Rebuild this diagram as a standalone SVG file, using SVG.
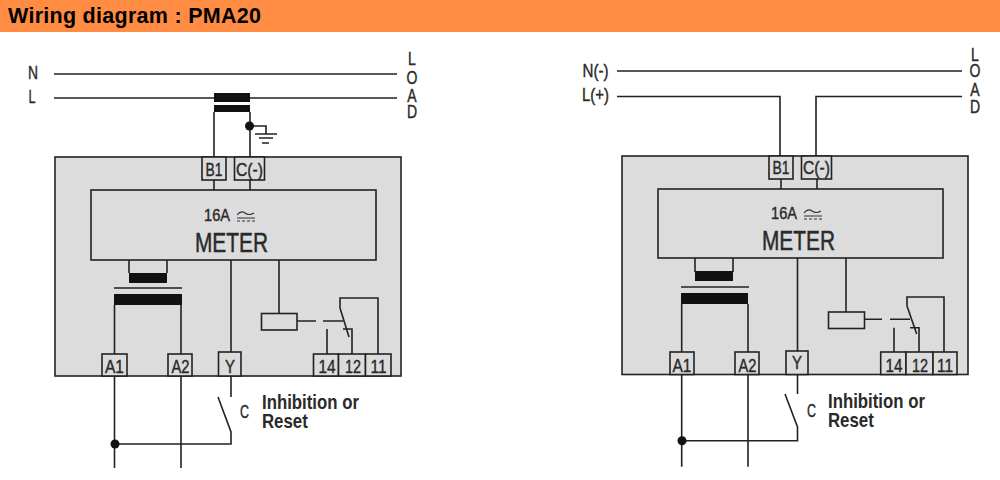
<svg xmlns="http://www.w3.org/2000/svg" width="1000" height="480" viewBox="0 0 1000 480">
<style>
text{font-family:"Liberation Sans",Arial,sans-serif;fill:#2a2a2a}
.t{font-size:18px;text-anchor:middle;stroke:#2a2a2a;stroke-width:.4}
.m{font-size:27px;text-anchor:middle;stroke:#2a2a2a;stroke-width:.5}
.a{font-size:17px;text-anchor:middle;stroke:#2a2a2a;stroke-width:.4}
.b{font-weight:bold;font-size:20px}
.w{fill:none;stroke:#222;stroke-width:1.6}
.box{fill:#dcdcdc;stroke:#222;stroke-width:1.6}
.bar,.dot{fill:#111}
.thin{fill:none;stroke:#333;stroke-width:1.2}
</style>
<rect width="1000" height="480" fill="#fff"/>
<g id="header">
<rect width="1000" height="32" fill="#ff8c42"/>
<text x="8" y="22.500" textLength="253" lengthAdjust="spacing" style="font-size:21.500px;font-weight:bold;fill:#000">Wiring diagram : PMA20</text>
</g>

<g id="left-diagram">
<g id="left-device"><rect class="box" x="55" y="157" width="346" height="219"/></g>
<g id="left-meter"><rect class="box" x="91" y="190" width="285" height="70"/>
<text class="a" x="217" y="221" textLength="26" lengthAdjust="spacingAndGlyphs">16A</text>
<path class="thin" d="M237 215q4-5 8-2t9 0M237 218h18M237 221h3m2 0h3m2 0h3m2 0h3"/>
<text class="m" x="231.500" y="252" textLength="73" lengthAdjust="spacingAndGlyphs">METER</text></g>
<g id="left-connectors">
<path class="w" d="M54 74H397M54 98H397M214 112V157M250 112V157M250 126H266V134M255 134H277M259 138H273M262 143H269M214 180V190M250 180V190M129 260V273M167 260V273M114 288H182M114.500 305V354M181 305V354M231 260V352M279 260V313M114.500 376V468M181 376V468M231 376V397M218 397L231 432V444H115M297 321H316M323 321H343M340 308V298H378V354M340 308L349 337M343 329H352V354M327 329V354"/>
<rect class="bar" x="214" y="93" width="36" height="9"/>
<rect class="bar" x="214" y="105" width="36" height="7"/>
<rect class="bar" x="129" y="273" width="38" height="10"/>
<rect class="bar" x="114" y="294" width="68" height="11"/>
<circle class="dot" cx="249.500" cy="126" r="4.500"/>
<circle class="dot" cx="115" cy="444" r="4.500"/>
</g>
<g id="left-coil"><rect class="box" x="261.500" y="313.500" width="35.500" height="16.500"/></g>
<g id="left-B1"><rect class="box" x="202" y="157" width="24" height="23"/><text class="t" x="214" y="175.500" textLength="17" lengthAdjust="spacingAndGlyphs">B1</text></g>
<g id="left-C"><rect class="box" x="234.500" y="157" width="30" height="23"/><text class="t" x="249.500" y="175.500" textLength="27" lengthAdjust="spacingAndGlyphs">C(-)</text></g>
<g id="left-A1"><rect class="box" x="102" y="354" width="25" height="22"/><text class="t" x="114.500" y="372.500" textLength="19" lengthAdjust="spacingAndGlyphs">A1</text></g>
<g id="left-A2"><rect class="box" x="168" y="354" width="24" height="22"/><text class="t" x="180.500" y="372.500" textLength="18" lengthAdjust="spacingAndGlyphs">A2</text></g>
<g id="left-Y"><rect class="box" x="218.500" y="352" width="22.500" height="24"/><text class="t" x="230" y="372.500" textLength="10" lengthAdjust="spacingAndGlyphs">Y</text></g>
<g id="left-14"><rect class="box" x="313.500" y="354" width="25" height="22"/><text class="t" x="327" y="372.500" textLength="17" lengthAdjust="spacingAndGlyphs">14</text></g>
<g id="left-12"><rect class="box" x="338.500" y="354" width="27" height="22"/><text class="t" x="353" y="372.500" textLength="16" lengthAdjust="spacingAndGlyphs">12</text></g>
<g id="left-11"><rect class="box" x="365.500" y="354" width="25.500" height="22"/><text class="t" x="378.500" y="372.500" textLength="16" lengthAdjust="spacingAndGlyphs">11</text></g>
<text class="t" x="33" y="79" textLength="10" lengthAdjust="spacingAndGlyphs">N</text>
<text class="t" x="32" y="103" textLength="7" lengthAdjust="spacingAndGlyphs">L</text>
<text class="t" transform="translate(412 0) scale(.78 1)"><tspan x="0" y="65">L</tspan><tspan x="0" y="84">O</tspan><tspan x="0" y="102">A</tspan><tspan x="0" y="118">D</tspan></text>
<text class="t" x="244.500" y="418" textLength="9" lengthAdjust="spacingAndGlyphs">C</text>
<text class="b" transform="translate(262 409) scale(.84 1)"><tspan x="0" y="0">Inhibition or</tspan><tspan x="0" y="19">Reset</tspan></text>
</g>

<g id="right-diagram" transform="translate(567,-1)">
<g id="right-device"><rect class="box" x="55" y="157" width="346" height="218.500"/></g>
<g id="right-meter"><rect class="box" x="91" y="190" width="285" height="69"/>
<text class="a" x="217" y="220" textLength="26" lengthAdjust="spacingAndGlyphs">16A</text>
<path class="thin" d="M237 214q4-5 8-2t9 0M237 217h18M237 220h3m2 0h3m2 0h3m2 0h3"/>
<text class="m" x="231.500" y="251" textLength="73" lengthAdjust="spacingAndGlyphs">METER</text></g>
<g id="right-connectors">
<path class="w" d="M50 72H395M50 97.500H213V157M395 97.500H249V157M214 180V190M250 180V190M128 259V273M166 259V273M114 288H182M114.700 305V353M181 305V353M230.500 259V352M279 259V313M114.700 375.500V467.700M181 375.500V467.700M230.500 375.500V395M218 395L230.500 428V441.700H115M297.500 320.300H315M323 320.300H343M340 307V298H377V353M340 307L349.700 335M343 328.700H352V353M327 328.700V353"/>
<rect class="bar" x="128" y="272" width="38" height="10"/>
<rect class="bar" x="114" y="294" width="67" height="11"/>
<circle class="dot" cx="115" cy="441.700" r="4.500"/>
</g>
<g id="right-coil"><rect class="box" x="261.500" y="313" width="36" height="16.500"/></g>
<g id="right-B1"><rect class="box" x="202" y="157" width="24" height="23"/><text class="t" x="214" y="175" textLength="17" lengthAdjust="spacingAndGlyphs">B1</text></g>
<g id="right-C"><rect class="box" x="234.500" y="157" width="30" height="23"/><text class="t" x="249.500" y="175" textLength="27" lengthAdjust="spacingAndGlyphs">C(-)</text></g>
<g id="right-A1"><rect class="box" x="103" y="353" width="24" height="22.500"/><text class="t" x="115" y="372.700" textLength="19" lengthAdjust="spacingAndGlyphs">A1</text></g>
<g id="right-A2"><rect class="box" x="168" y="353" width="24" height="22.500"/><text class="t" x="180.500" y="372.700" textLength="18" lengthAdjust="spacingAndGlyphs">A2</text></g>
<g id="right-Y"><rect class="box" x="219" y="352" width="22" height="23.500"/><text class="t" x="230" y="370" textLength="10" lengthAdjust="spacingAndGlyphs">Y</text></g>
<g id="right-14"><rect class="box" x="313.700" y="353" width="25.300" height="22.500"/><text class="t" x="327" y="372.700" textLength="17" lengthAdjust="spacingAndGlyphs">14</text></g>
<g id="right-12"><rect class="box" x="339" y="353" width="27" height="22.500"/><text class="t" x="353" y="372.700" textLength="16" lengthAdjust="spacingAndGlyphs">12</text></g>
<g id="right-11"><rect class="box" x="366" y="353" width="24" height="22.500"/><text class="t" x="378" y="372.700" textLength="16" lengthAdjust="spacingAndGlyphs">11</text></g>
<text class="t" x="28.500" y="78" textLength="26" lengthAdjust="spacingAndGlyphs">N(-)</text>
<text class="t" x="28.500" y="102" textLength="27" lengthAdjust="spacingAndGlyphs">L(+)</text>
<text class="t" transform="translate(408 0) scale(.78 1)"><tspan x="0" y="62">L</tspan><tspan x="0" y="78">O</tspan><tspan x="0" y="97">A</tspan><tspan x="0" y="114">D</tspan></text>
<text class="t" x="244.500" y="417.700" textLength="9" lengthAdjust="spacingAndGlyphs">C</text>
<text class="b" transform="translate(261 408.700) scale(.84 1)"><tspan x="0" y="0">Inhibition or</tspan><tspan x="0" y="19">Reset</tspan></text>
</g>
</svg>
